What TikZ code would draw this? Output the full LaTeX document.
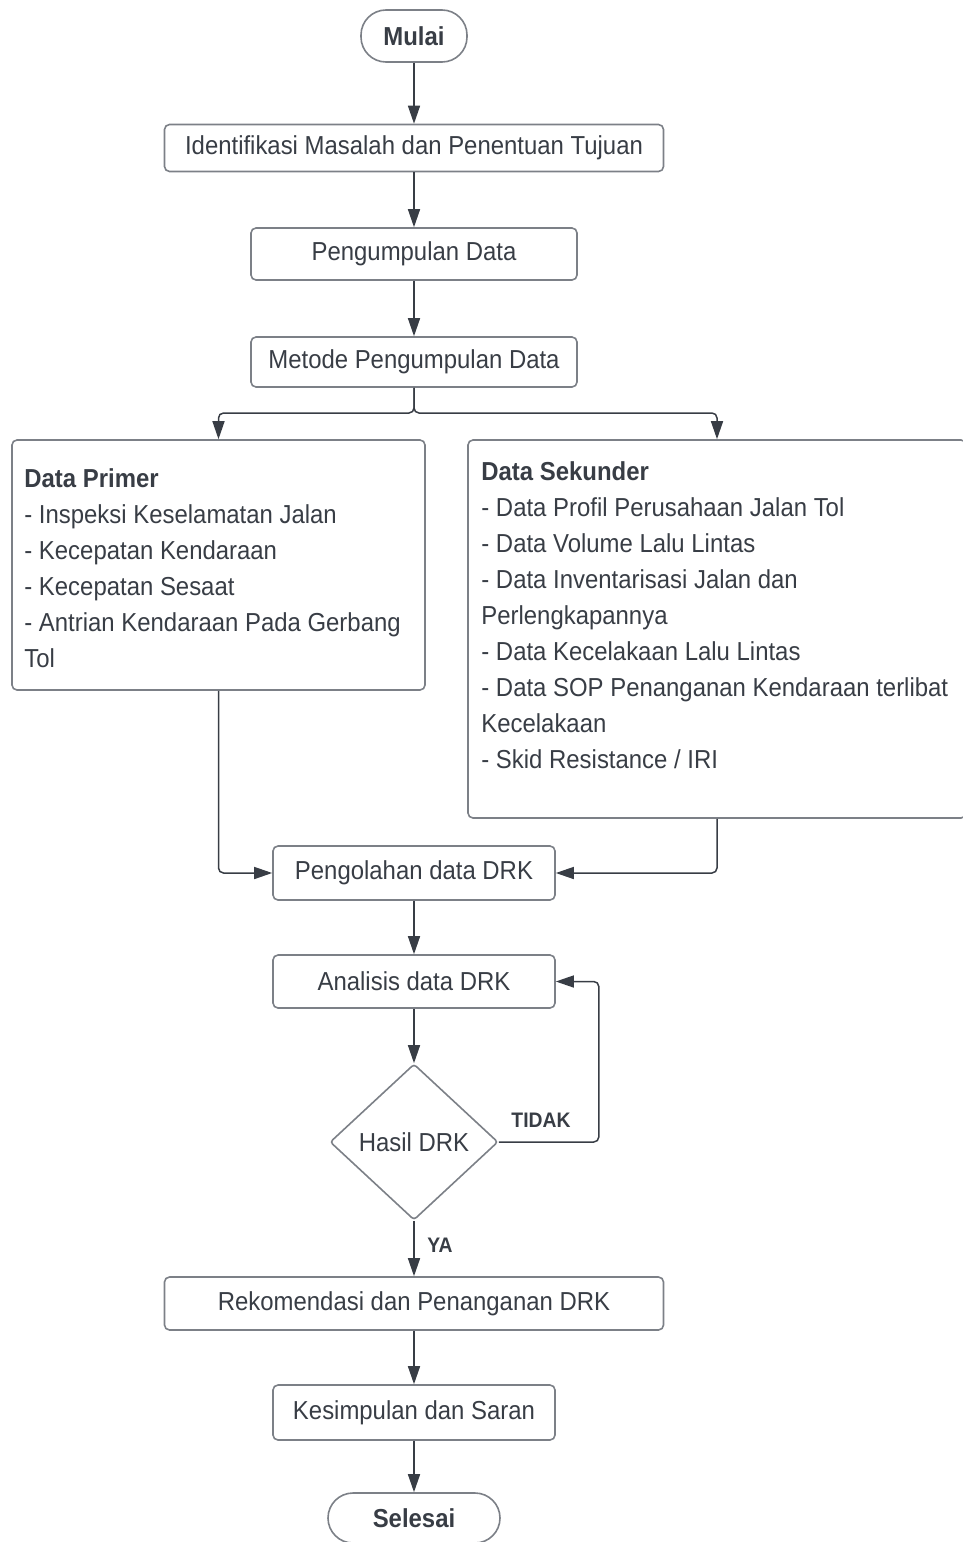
\documentclass[tikz,border=0pt]{standalone}
\usepackage{fontspec}
\setmainfont[FakeStretch=0.92]{Liberation Sans}
\usetikzlibrary{shapes.geometric,arrows.meta,calc}
\definecolor{boxline}{HTML}{7C8087}
\definecolor{ink}{HTML}{383D45}

\begin{document}
\begin{tikzpicture}[x=1pt,y=-1pt,
        every node/.style={text=ink,font=\fontsize{26}{36}\selectfont},
        procbox/.style={draw=boxline,line width=1.6pt,rounded corners=5pt,inner sep=0pt},
        termbox/.style={procbox,rounded corners=25pt,font=\fontsize{26}{36}\selectfont\bfseries},
        listtext/.style={align=left,inner sep=0pt,anchor=north west},
        decision/.style={draw=boxline,line width=1.6pt,diamond,rounded corners=3pt,inner sep=0pt,
            minimum width=168pt,minimum height=156pt,aspect=1.08},
        arrow/.style={draw=ink,line width=1.5pt,rounded corners=5pt,-{Triangle[length=18pt,width=12pt]}},
        answer/.style={font=\fontsize{21}{24}\selectfont\bfseries}]
    \useasboundingbox (0,0) rectangle (963,1542);

    \node[termbox,minimum width=106pt,minimum height=52pt] (start) at (414,36) {Mulai};
    \node[procbox,minimum width=499pt,minimum height=47pt] (ident) at (414,148) {Identifikasi Masalah dan Penentuan Tujuan};
    \node[procbox,minimum width=326pt,minimum height=52pt] (kumpul) at (414,254) {Pengumpulan Data};
    \node[procbox,minimum width=326pt,minimum height=50pt] (metode) at (414,362) {Metode Pengumpulan Data};

    % data boxes
    \node[procbox,minimum width=413pt,minimum height=250pt] (primer) at (218.5,565) {};
    \node[listtext] (primertext) at ($(primer.north west)+(13,29)$) {%
        \textbf{Data Primer}\\
        - Inspeksi Keselamatan Jalan\\
        - Kecepatan Kendaraan\\
        - Kecepatan Sesaat\\
        - Antrian Kendaraan Pada Gerbang\\
        Tol};
    \node[procbox,minimum width=498pt,minimum height=378pt] (sekunder) at (717,629) {};
    \node[listtext] (sekundertext) at ($(sekunder.north west)+(14,22)$) {%
        \textbf{Data Sekunder}\\
        - Data Profil Perusahaan Jalan Tol\\
        - Data Volume Lalu Lintas\\
        - Data Inventarisasi Jalan dan\\
        Perlengkapannya\\
        - Data Kecelakaan Lalu Lintas\\
        - Data SOP Penanganan Kendaraan terlibat\\
        Kecelakaan\\
        - Skid Resistance / IRI};

    \node[procbox,minimum width=282pt,minimum height=54pt] (olah) at (414,873) {Pengolahan data DRK};
    \node[procbox,minimum width=282pt,minimum height=53pt] (analisis) at (414,981.5) {Analisis data DRK};
    \node[decision] (hasil) at (414,1142) {Hasil DRK};
    \node[procbox,minimum width=499pt,minimum height=53pt] (rekom) at (414,1303.5) {Rekomendasi dan Penanganan DRK};
    \node[procbox,minimum width=282pt,minimum height=55pt] (simpul) at (414,1412.5) {Kesimpulan dan Saran};
    \node[termbox,minimum width=172pt,minimum height=50pt] (selesai) at (414,1518) {Selesai};

    % connectors
    \foreach \a/\b in {start/ident,ident/kumpul,kumpul/metode,olah/analisis,analisis/hasil,hasil/rekom,rekom/simpul,simpul/selesai}
        \draw[arrow] (\a) -- (\b);
    \coordinate (split) at (414,413);
    \draw[arrow] (metode.south) -- (split) -| (primer.north);
    \draw[arrow] (metode.south) -- (split) -| (sekunder.north);
    \draw[arrow] (primer.south) |- (olah.west);
    \draw[arrow] (sekunder.south) |- (olah.east);
    \draw[arrow] (hasil.east) -- ++(100,0) |- (analisis.east);

    \node[answer] (tidak) at (541,1120) {TIDAK};
    \node[answer] (ya) at (440,1245) {YA};
\end{tikzpicture}
\end{document}
